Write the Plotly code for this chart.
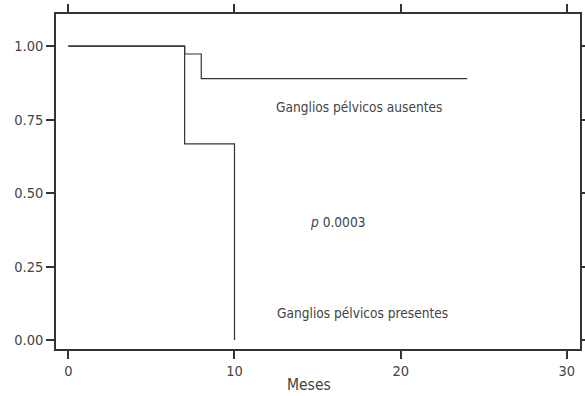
import plotly.graph_objects as go

# Kaplan-Meier survival estimates by pelvic lymph node status
meses_ausentes = [0, 7, 8, 24]
superv_ausentes = [1.0, 0.973, 0.889, 0.889]

meses_presentes = [0, 7, 10]
superv_presentes = [1.0, 0.667, 0.0]

x_ticks = [0, 10, 20, 30]
y_ticks = [0.0, 0.25, 0.5, 0.75, 1.0]

FONT = "Liberation Sans Narrow, DejaVu Sans Condensed, Arial Narrow, sans-serif"
INK = "#333333"

fig = go.Figure()
for t, s in [(meses_ausentes, superv_ausentes), (meses_presentes, superv_presentes)]:
    fig.add_trace(go.Scatter(
        x=t, y=s, mode="lines", line_shape="hv",
        line=dict(color=INK, width=1.2), showlegend=False, hoverinfo="skip",
    ))

annot_font = dict(family=FONT, size=13.6, color="#444444")
fig.add_annotation(x=17.47, y=0.794, text="Ganglios pélvicos ausentes",
                   showarrow=False, xanchor="center", yanchor="middle", font=annot_font)
fig.add_annotation(x=14.4, y=0.402, text="<i>p</i> 0.0003",
                   showarrow=False, xanchor="left", yanchor="middle", font=annot_font)
fig.add_annotation(x=12.43, y=0.092, text="Ganglios pélvicos presentes",
                   showarrow=False, xanchor="left", yanchor="middle", font=annot_font)

# x-axis title, placed slightly left of the axis centre
fig.add_annotation(xref="paper", yref="paper", x=0.483, y=-0.107, text="Meses",
                   showarrow=False, xanchor="center", yanchor="middle",
                   font=dict(family=FONT, size=15.5, color="#444444"))

axis_common = dict(
    showgrid=False, zeroline=False, showline=True, linecolor=INK, linewidth=1.5,
    mirror="ticks", ticks="outside", ticklen=8, tickwidth=1.5, tickcolor=INK,
    tickfont=dict(family=FONT, size=14.5, color="#444444"), automargin=False,
)

fig.update_layout(
    width=585, height=396,
    margin=dict(l=56, r=5, t=14, b=47),
    plot_bgcolor="white", paper_bgcolor="white",
    xaxis=dict(range=[-0.74, 30.79], tickvals=x_ticks, **axis_common),
    yaxis=dict(range=[-0.0306, 1.109], tickvals=y_ticks, tickformat=".2f",
               **axis_common),
)

fig.write_html("out.html")
